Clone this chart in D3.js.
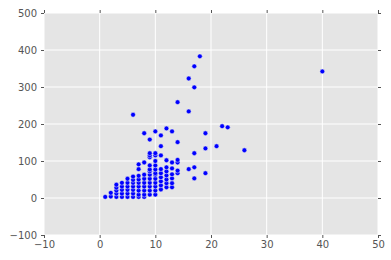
<!DOCTYPE html>
<html>
<head>
<meta charset="utf-8">
<script src="https://cdn.jsdelivr.net/npm/d3@7"></script>
<style>
  body { margin: 0; background: #fff; }
  text { font-family: "DejaVu Sans", sans-serif; }
</style>
</head>
<body>
<div id="chart"></div>
<script>
// x value for each column, and the y values stacked in that column
const colX = [1, 2, 3, 4, 5, 6, 7, 8, 9, 10, 11, 12, 13, 14, 16, 17, 18, 19, 21, 22, 23, 26, 40];
const colY = [
  [3],
  [4, 14],
  [3, 12, 20, 28, 36],
  [3, 12, 22, 31, 41],
  [3, 12, 22, 31, 41, 52],
  [3, 12, 22, 31, 41, 49, 58, 225],
  [3, 9, 20, 31, 41, 50, 60, 78, 91],
  [3, 9, 20, 31, 41, 52, 63, 96, 175],
  [9, 20, 31, 41, 52, 63, 72, 77, 88, 110, 115, 121, 158],
  [9, 20, 31, 41, 52, 63, 67, 77, 88, 100, 115, 121, 180],
  [23, 34, 45, 56, 67, 78, 115, 140, 169],
  [29, 40, 50, 61, 72, 83, 102, 188],
  [29, 40, 53, 64, 80, 96, 180],
  [67, 74, 96, 103, 151, 259],
  [78, 234, 323],
  [53, 83, 121, 299, 356],
  [383],
  [67, 134, 175],
  [140],
  [194],
  [191],
  [129],
  [342]
];
const xTicks = [-10, 0, 10, 20, 30, 40, 50];
const yTicks = [-100, 0, 100, 200, 300, 400, 500];

const width = 391, height = 260;
const margin = { top: 13, right: 13, bottom: 25, left: 44 };

const points = [];
colX.forEach(function (x, i) {
  colY[i].forEach(function (y) {
    points.push({ x: x, y: y });
  });
});

const svg = d3.select("#chart")
  .append("svg")
  .attr("width", width)
  .attr("height", height);

const xScale = d3.scaleLinear()
  .domain([-10, 50])
  .range([margin.left, width - margin.right]);

const yScale = d3.scaleLinear()
  .domain([-100, 500])
  .range([height - margin.bottom, margin.top]);

// panel background
svg.append("rect")
  .attr("x", margin.left)
  .attr("y", margin.top)
  .attr("width", width - margin.left - margin.right)
  .attr("height", height - margin.top - margin.bottom)
  .attr("fill", "#e5e5e5");

// grid lines
svg.append("g")
  .selectAll("line")
  .data(xTicks)
  .enter()
  .append("line")
  .attr("x1", (d) => xScale(d))
  .attr("x2", (d) => xScale(d))
  .attr("y1", margin.top)
  .attr("y2", height - margin.bottom)
  .attr("stroke", "#fff")
  .attr("stroke-width", 1);

svg.append("g")
  .selectAll("line")
  .data(yTicks)
  .enter()
  .append("line")
  .attr("x1", margin.left)
  .attr("x2", width - margin.right)
  .attr("y1", (d) => yScale(d))
  .attr("y2", (d) => yScale(d))
  .attr("stroke", "#fff")
  .attr("stroke-width", 1);

const fmt = (d) => (d < 0 ? "\u2212" + Math.abs(d) : String(d));

// axes
const xAxis = d3.axisBottom(xScale).tickValues(xTicks).tickSize(3).tickPadding(3).tickFormat(fmt);
const yAxis = d3.axisLeft(yScale).tickValues(yTicks).tickSize(3).tickPadding(4).tickFormat(fmt);

const gx = svg.append("g")
  .attr("transform", `translate(0, ${height - margin.bottom})`)
  .call(xAxis);
const gy = svg.append("g")
  .attr("transform", `translate(${margin.left}, 0)`)
  .call(yAxis);

// ticks on the other two sides, no labels
const gx2 = svg.append("g")
  .attr("transform", `translate(0, ${margin.top})`)
  .call(d3.axisTop(xScale).tickValues(xTicks).tickSize(3).tickFormat(""));
const gy2 = svg.append("g")
  .attr("transform", `translate(${width - margin.right}, 0)`)
  .call(d3.axisRight(yScale).tickValues(yTicks).tickSize(3).tickFormat(""));

[gx, gy, gx2, gy2].forEach(function (g) {
  g.select(".domain").remove();
  g.selectAll(".tick line").attr("stroke", "#555");
  g.selectAll(".tick text")
    .attr("fill", "#555")
    .style("font-size", "10px");
});

// points
svg.append("g")
  .selectAll("circle")
  .data(points)
  .enter()
  .append("circle")
  .attr("cx", (d) => xScale(d.x))
  .attr("cy", (d) => yScale(d.y))
  .attr("r", 2.4)
  .attr("fill", "#0000ff")
  .attr("stroke", "#eeeeee")
  .attr("stroke-width", 0.5);
</script>
</body>
</html>
